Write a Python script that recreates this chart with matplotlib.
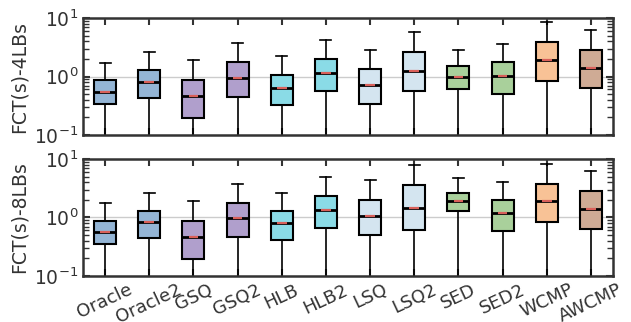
import matplotlib
matplotlib.use("Agg")
import matplotlib.pyplot as plt
import numpy as np

labels = ["Oracle", "Oracle2", "GSQ", "GSQ2", "HLB", "HLB2",
          "LSQ", "LSQ2", "SED", "SED2", "WCMP", "AWCMP"]
colors = ["#94b5d5", "#94b5d5", "#b09fcc", "#b09fcc", "#8adbe6", "#8adbe6",
          "#d4e5f0", "#d4e5f0", "#a9d09b", "#a9d09b", "#f8c296", "#cfab95"]

# 4 LBs: lower whisker, q1, median, q3, upper whisker
lo_4 = [0.01] * 12
q1_4 = [0.34, 0.43, 0.195, 0.45, 0.32, 0.57, 0.34, 0.56, 0.60, 0.51, 0.84, 0.64]
med_4 = [0.55, 0.81, 0.46, 0.94, 0.64, 1.16, 0.73, 1.24, 0.98, 1.02, 1.91, 1.40]
q3_4 = [0.87, 1.29, 0.88, 1.77, 1.07, 1.99, 1.33, 2.59, 1.49, 1.75, 3.84, 2.88]
hi_4 = [1.72, 2.62, 1.91, 3.74, 2.24, 4.16, 2.84, 5.69, 2.84, 3.64, 8.44, 6.24]

# 8 LBs
lo_8 = [0.01] * 12
q1_8 = [0.35, 0.44, 0.198, 0.46, 0.41, 0.65, 0.50, 0.62, 1.27, 0.59, 0.83, 0.64]
med_8 = [0.56, 0.83, 0.46, 0.97, 0.79, 1.34, 1.06, 1.45, 1.94, 1.19, 1.89, 1.42]
q3_8 = [0.88, 1.31, 0.88, 1.79, 1.29, 2.36, 2.02, 3.64, 2.66, 1.99, 3.74, 2.87]
hi_8 = [1.75, 2.62, 1.94, 3.78, 2.62, 4.98, 4.32, 7.9, 4.8, 4.1, 8.2, 6.3]

plt.rcParams["font.family"] = "DejaVu Sans"
text_col = "#333333"

fig = plt.figure(figsize=(6.31, 3.22), dpi=100)
ax1 = fig.add_axes([0.1315, 0.5807, 0.84, 0.3634])
ax2 = fig.add_axes([0.1315, 0.1429, 0.84, 0.3634])

pos = np.arange(1, len(labels) + 1)


def draw(ax, lo, q1, med, q3, hi, ylabel):
    stats = []
    for i in range(len(labels)):
        stats.append({"whislo": lo[i], "q1": q1[i], "med": med[i],
                      "q3": q3[i], "whishi": hi[i], "fliers": []})
    bp = ax.bxp(stats, positions=pos, widths=0.5, patch_artist=True,
                showfliers=False,
                boxprops=dict(edgecolor="black", linewidth=1.5),
                whiskerprops=dict(color="black", linewidth=1.2),
                capprops=dict(color="black", linewidth=1.2),
                medianprops=dict(color="black", linewidth=2))
    for patch, c in zip(bp["boxes"], colors):
        patch.set_facecolor(c)
    ax.hlines(med, pos - 0.11, pos + 0.11, colors="#d9605a", linewidth=1.6,
              zorder=5)
    ax.set_yscale("log")
    ax.set_ylim(0.1, 10)
    ax.set_xlim(0.5, len(labels) + 0.5)
    ax.yaxis.grid(True, which="major", color="#cccccc", linewidth=1)
    ax.set_axisbelow(True)
    ax.set_ylabel(ylabel, fontsize=13.5, color=text_col)
    ax.tick_params(axis="both", which="both", direction="in",
                   top=True, right=True, color="#333333")
    ax.tick_params(axis="both", which="major", length=5, width=1.5)
    ax.tick_params(axis="y", which="minor", length=4, width=1)
    ax.tick_params(axis="y", labelsize=13.5, labelcolor=text_col)
    for s in ax.spines.values():
        s.set_linewidth(1.8)
        s.set_color("#333333")


draw(ax1, lo_4, q1_4, med_4, q3_4, hi_4, "FCT(s)-4LBs")
draw(ax2, lo_8, q1_8, med_8, q3_8, hi_8, "FCT(s)-8LBs")

ax1.set_xticks(pos)
ax1.set_xticklabels([])
ax2.set_xticks(pos)
ax2.set_xticklabels(labels, rotation=25, fontsize=13, color=text_col,
                    ha="center")

fig.align_ylabels([ax1, ax2])
fig.savefig("out.png", dpi=100)
